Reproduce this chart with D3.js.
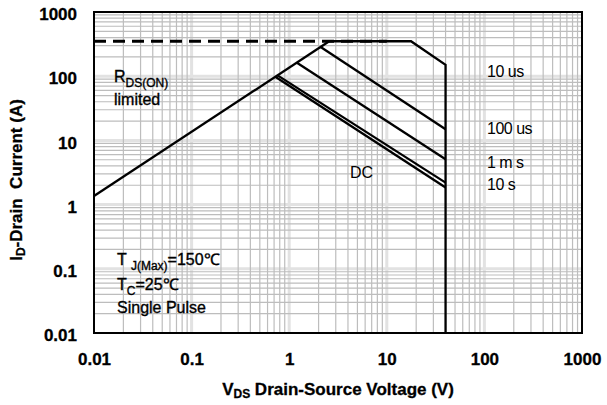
<!DOCTYPE html>
<html><head><meta charset="utf-8">
<script src="https://cdn.jsdelivr.net/npm/d3@7"></script>
<style>
body{margin:0;background:#fff;}
svg{display:block;font-family:"Liberation Sans",Arial,sans-serif;}
</style></head>
<body><svg id="c" width="607" height="405"></svg>
<script>
const xTickValues = [0.01, 0.1, 1, 10, 100, 1000];
const xTickLabels = ["0.01", "0.1", "1", "10", "100", "1000"];
const yTickValues = [0.01, 0.1, 1, 10, 100, 1000];
const yTickLabels = ["0.01", "0.1", "1", "10", "100", "1000"];

// SOA boundary lines [V, A]
const rdsOnLine = [[0.01, 1.36], [2.57, 350]];
const limit10us = [[2.57, 350], [17.7, 350], [40, 150], [40, 0.01]];
const line100us = [[2.1, 285], [40, 14.9]];
const line1ms = [[1.2, 162], [40, 5.1]];
const line10s = [[0.76, 103], [40, 2.2]];
const lineDC = [[0.72, 98], [40, 1.85]];
const dashedLimit = [[0.01, 350], [10, 350]];

const pulseLabels = ["10 us", "100 us", "1 m s", "10 s"];

const svg = d3.select("#c");
const L = 94, R = 582, T = 12, B = 333;
const x = d3.scaleLog().domain([0.01, 1000]).range([L, R]);
const y = d3.scaleLog().domain([0.01, 1000]).range([B, T]);

// grid
const grid = svg.append("g");
const minors = [], majors = [];
for (let d = 0.01; d < 1000 * 0.999; d *= 10) {
  for (let k = 2; k <= 9; k++) minors.push(d * k);
  if (d > 0.011) majors.push(d);
}
grid.selectAll(".hmaj").data(majors).join("line")
  .attr("x1", L).attr("x2", R).attr("y1", d => y(d)).attr("y2", d => y(d))
  .attr("stroke", "#e2e2e2").attr("stroke-width", 3);
grid.selectAll(".vmaj").data(majors).join("line")
  .attr("y1", T).attr("y2", B).attr("x1", d => x(d)).attr("x2", d => x(d))
  .attr("stroke", "#e2e2e2").attr("stroke-width", 3);
grid.selectAll(".hmin").data(minors).join("line")
  .attr("x1", L).attr("x2", R).attr("y1", d => y(d)).attr("y2", d => y(d))
  .attr("stroke", "#bdbdbd").attr("stroke-width", 1.2);
grid.selectAll(".vmin").data(minors).join("line")
  .attr("y1", T).attr("y2", B).attr("x1", d => x(d)).attr("x2", d => x(d))
  .attr("stroke", "#bdbdbd").attr("stroke-width", 1.2);

// axes
const xAxis = svg.append("g").attr("transform", `translate(0,${B})`)
  .call(d3.axisBottom(x).tickValues(xTickValues).tickSize(0)
    .tickFormat((d, i) => xTickLabels[i]));
xAxis.select(".domain").remove();
xAxis.selectAll("text").attr("y", 32).attr("dy", 0)
  .attr("font-size", 17).attr("font-weight", "bold").attr("fill", "#000")
  .attr("stroke", "#000").attr("stroke-width", 0.3)
  .attr("font-family", "Liberation Sans, Arial, sans-serif");

const yAxis = svg.append("g").attr("transform", `translate(${L},0)`)
  .call(d3.axisLeft(y).tickValues(yTickValues).tickSize(0)
    .tickFormat((d, i) => yTickLabels[i]));
yAxis.select(".domain").remove();
yAxis.selectAll("text").attr("x", -17).attr("dy", "0.45em")
  .attr("font-size", 17).attr("font-weight", "bold").attr("fill", "#000")
  .attr("stroke", "#000").attr("stroke-width", 0.3)
  .attr("font-family", "Liberation Sans, Arial, sans-serif");

// plot frame
svg.append("rect").attr("x", L).attr("y", T).attr("width", R - L).attr("height", B - T)
  .attr("fill", "none").attr("stroke", "#000").attr("stroke-width", 2);

// lines
const line = d3.line().x(d => x(d[0])).y(d => y(d[1]));
svg.append("path").datum(dashedLimit).attr("d", line)
  .attr("fill", "none").attr("stroke", "#000").attr("stroke-width", 3)
  .attr("stroke-dasharray", "12,7");
[rdsOnLine, limit10us, line100us, line1ms, line10s, lineDC].forEach(s => {
  svg.append("path").datum(s).attr("d", line)
    .attr("fill", "none").attr("stroke", "#000").attr("stroke-width", 2.3)
    .attr("stroke-linejoin", "miter");
});

// annotations
const ann = svg.append("g").attr("font-size", 16).attr("fill", "#000")
  .attr("stroke", "#000").attr("stroke-width", 0.35);
const t1 = ann.append("text").attr("x", 114).attr("y", 82);
t1.append("tspan").text("R");
t1.append("tspan").attr("font-size", 12).attr("dy", 5).text("DS(ON)");
ann.append("text").attr("x", 114).attr("y", 105).text("limited");

const t2 = ann.append("text").attr("x", 117).attr("y", 265);
t2.append("tspan").text("T ");
t2.append("tspan").attr("font-size", 12).attr("dy", 5).text("J(Max)");
t2.append("tspan").attr("dy", -5).text("=150℃");
const t3 = ann.append("text").attr("x", 117).attr("y", 290);
t3.append("tspan").text("T");
t3.append("tspan").attr("font-size", 12).attr("dy", 5).text("C");
t3.append("tspan").attr("dy", -5).text("=25℃");
ann.append("text").attr("x", 117).attr("y", 313).text("Single Pulse");

const ann2 = svg.append("g").attr("font-size", 16).attr("fill", "#000");
ann2.append("text").attr("x", 350).attr("y", 178).text("DC");
const pulseY = [77, 134, 168, 190];
pulseLabels.forEach((t, i) => {
  ann2.append("text").attr("x", 487).attr("y", pulseY[i]).attr("letter-spacing", -0.5).text(t);
});

// axis titles
const xt = svg.append("text").attr("x", (L + R) / 2).attr("y", 395)
  .attr("text-anchor", "middle").attr("font-size", 17).attr("font-weight", "bold")
  .attr("stroke", "#000").attr("stroke-width", 0.3);
xt.append("tspan").text("V");
xt.append("tspan").attr("font-size", 12).attr("dy", 3).text("DS");
xt.append("tspan").attr("dy", -3).text(" Drain-Source Voltage (V)");

const yt = svg.append("text").attr("transform", "translate(22,180) rotate(-90)")
  .attr("text-anchor", "middle").attr("font-size", 17).attr("font-weight", "bold")
  .attr("stroke", "#000").attr("stroke-width", 0.3);
yt.append("tspan").text("I");
yt.append("tspan").attr("font-size", 12).attr("dy", 3).text("D");
yt.append("tspan").attr("dy", -3).text("-Drain\u00a0 Current (A)");
</script></body></html>
